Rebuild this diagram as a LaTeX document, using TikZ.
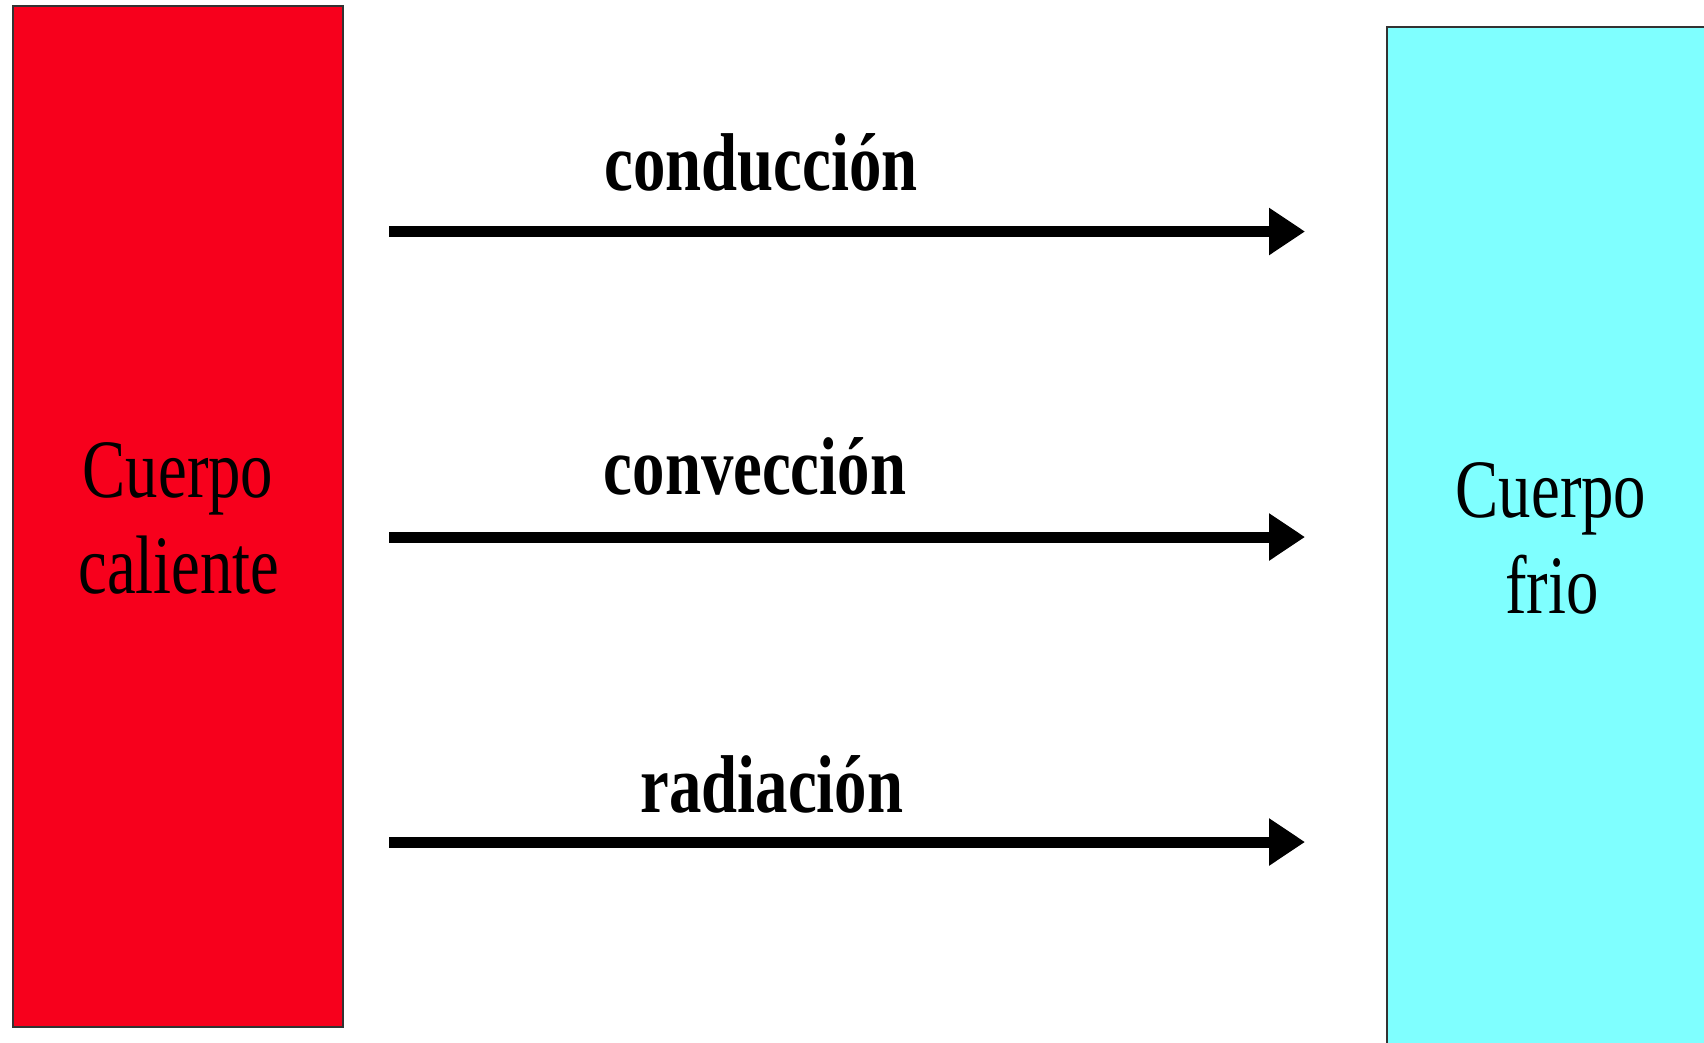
\documentclass[tikz,border=0pt]{standalone}
\usepackage{graphicx}
\usepackage{fontspec}
\setmainfont{Liberation Serif}
\usetikzlibrary{arrows.meta}
\definecolor{hotred}{RGB}{247,0,28}
\definecolor{coldcyan}{RGB}{127,255,255}
\begin{document}
\begin{tikzpicture}[x=1pt,y=-1pt,
  body/.style={draw=black!80, line width=2pt, inner sep=0pt, outer sep=0pt, anchor=north west},
  flow/.style={line width=11pt, -{Triangle[length=36pt,width=45pt]}},
  flowlabel/.style={anchor=base, inner sep=0pt, font=\fontsize{82}{96}\selectfont\bfseries},
  bodylabel/.style={anchor=base, inner sep=0pt, font=\fontsize{83}{96}\selectfont}]
\useasboundingbox (0,0) rectangle (1704,1042);
\clip (0,0) rectangle (1704,1042);
\fill[white] (0,0) rectangle (1704,1042);
% bodies
\node[body, fill=hotred, minimum width=330pt, minimum height=1021pt] (hot) at (13,6) {};
\node[body, fill=coldcyan, minimum width=400pt, minimum height=1100pt] (cold) at (1387,27) {};
\node[bodylabel] (hot1) at (178,497) {\scalebox{0.78}[1]{Cuerpo}};
\node[bodylabel] (hot2) at (179,593) {\scalebox{0.78}[1]{caliente}};
\node[bodylabel] (cold1) at (1551,517) {\scalebox{0.78}[1]{Cuerpo}};
\node[bodylabel] (cold2) at (1552,613) {\scalebox{0.78}[1]{frio}};
% arrows
\coordinate (s1) at (389,231.5);
\coordinate (e1) at (1305,231.5);
\coordinate (s2) at (389,537);
\coordinate (e2) at (1305,537);
\coordinate (s3) at (389,842);
\coordinate (e3) at (1305,842);
\draw[flow] (s1) -- (e1);
\draw[flow] (s2) -- (e2);
\draw[flow] (s3) -- (e3);
\node[flowlabel] (l1) at (761,190) {\scalebox{0.79}[1]{conducción}};
\node[flowlabel] (l2) at (755,494) {\scalebox{0.79}[1]{convección}};
\node[flowlabel] (l3) at (772,812) {\scalebox{0.79}[1]{radiación}};
\end{tikzpicture}
\end{document}
